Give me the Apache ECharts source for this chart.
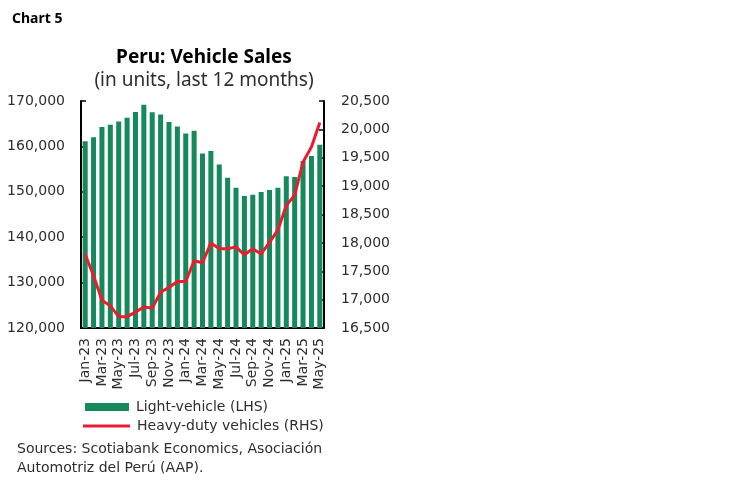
<!DOCTYPE html>
<html>
<head>
<meta charset="utf-8">
<script src="https://cdn.jsdelivr.net/npm/echarts@6/dist/echarts.min.js"></script>
<style>
	html, body { margin: 0; padding: 0; background: #fff; }
	#chart { width: 748px; height: 483px; }
</style>
</head>
<body>
<div id="chart"></div>
<script>
	// months, Jan-23 .. May-25
	var months = ['Jan-23','Feb-23','Mar-23','Apr-23','May-23','Jun-23','Jul-23','Aug-23','Sep-23','Oct-23','Nov-23','Dec-23',
		'Jan-24','Feb-24','Mar-24','Apr-24','May-24','Jun-24','Jul-24','Aug-24','Sep-24','Oct-24','Nov-24','Dec-24',
		'Jan-25','Feb-25','Mar-25','Apr-25','May-25'];
	// light vehicles, units, last 12 months (LHS)
	var lightVehicle = [161150, 162000, 164300, 164750, 165500, 166300, 167550, 169200, 167500, 167050, 165350, 164400,
		162850, 163450, 158450, 159000, 156000, 153100, 150900, 149050, 149350, 149950, 150400, 150900,
		153400, 153250, 156800, 157900, 160350];
	// heavy-duty vehicles, units, last 12 months (RHS)
	var heavyDuty = [17800, 17420, 16990, 16890, 16700, 16700, 16780, 16870, 16850, 17130, 17215, 17320,
		17320, 17685, 17650, 18000, 17895, 17895, 17930, 17790, 17895, 17805, 18010, 18230,
		18660, 18840, 19425, 19690, 20120];

	var FONT = 'DejaVu Sans';
	var TFONT = 'Noto Sans';
	var TXT = '#2e2e2e';
	function commas(v) { return v.toString().replace(/\B(?=(\d{3})+(?!\d))/g, ','); }

	var myChart = echarts.init(document.getElementById('chart'));
	var option = {
		animation: false,
		textStyle: { fontFamily: FONT, color: TXT },
		title: [
			{ text: 'Chart 5', left: 7, top: 7, textStyle: { fontFamily: TFONT, fontSize: 14, fontWeight: 'bold', color: '#000' } },
			{ text: 'Peru: Vehicle Sales', left: 199, top: 43, textAlign: 'center',
				textStyle: { fontFamily: TFONT, fontSize: 19, fontWeight: 'bold', color: '#000' } },
			{ text: '(in units, last 12 months)', left: 199, top: 66, textAlign: 'center',
				textStyle: { fontFamily: TFONT, fontSize: 19, fontWeight: 'normal', color: TXT } },
			{ text: 'Sources: Scotiabank Economics, Asociación\nAutomotriz del Perú (AAP).', left: 12, top: 435,
				textStyle: { fontFamily: FONT, fontSize: 14, fontWeight: 'normal', color: TXT, lineHeight: 19 } }
		],
		legend: [
			{ data: ['Light-vehicle (LHS)'], left: 80, top: 395, itemWidth: 44, itemHeight: 8, icon: 'rect',
				textStyle: { fontFamily: FONT, fontSize: 14, color: TXT, padding: [0, 0, 0, 2] } },
			{ data: ['Heavy-duty vehicles (RHS)'], left: 78, top: 414, itemWidth: 47, itemHeight: 3, icon: 'rect',
				textStyle: { fontFamily: FONT, fontSize: 14, color: TXT, padding: [0, 0, 0, 2] } }
		],
		grid: { left: 81, right: 424, top: 101, bottom: 155 },
		xAxis: {
			type: 'category',
			data: months,
			boundaryGap: true,
			axisLine: { lineStyle: { color: '#000', width: 2 } },
			axisTick: { interval: 1, length: 5, lineStyle: { color: '#000', width: 1.5 } },
			axisLabel: { interval: 1, rotate: 90, fontFamily: FONT, fontSize: 14, color: TXT, margin: 10 }
		},
		yAxis: [
			{
				type: 'value', min: 120000, max: 170000, interval: 10000, position: 'left',
				splitLine: { show: false },
				axisLine: { show: true, lineStyle: { color: '#000', width: 2 } },
				axisTick: { show: true, inside: true, length: 5, lineStyle: { color: '#000', width: 1.5 } },
				axisLabel: { fontFamily: FONT, fontSize: 14, color: TXT, margin: 16, formatter: commas }
			},
			{
				type: 'value', min: 16500, max: 20500, interval: 500, position: 'right',
				splitLine: { show: false },
				axisLine: { show: true, lineStyle: { color: '#000', width: 2 } },
				axisTick: { show: true, inside: true, length: 5, lineStyle: { color: '#000', width: 1.5 } },
				axisLabel: { fontFamily: FONT, fontSize: 14, color: TXT, margin: 17, formatter: commas }
			}
		],
		series: [
			{
				name: 'Light-vehicle (LHS)',
				type: 'bar',
				yAxisIndex: 0,
				data: lightVehicle,
				barCategoryGap: '40%',
				itemStyle: { color: '#15895c' }
			},
			{
				name: 'Heavy-duty vehicles (RHS)',
				type: 'line',
				yAxisIndex: 1,
				data: heavyDuty,
				symbol: 'none',
				lineStyle: { color: '#ec1c2e', width: 3 },
				itemStyle: { color: '#ec1c2e' }
			}
		]
	};
	myChart.setOption(option);
</script>
</body>
</html>
